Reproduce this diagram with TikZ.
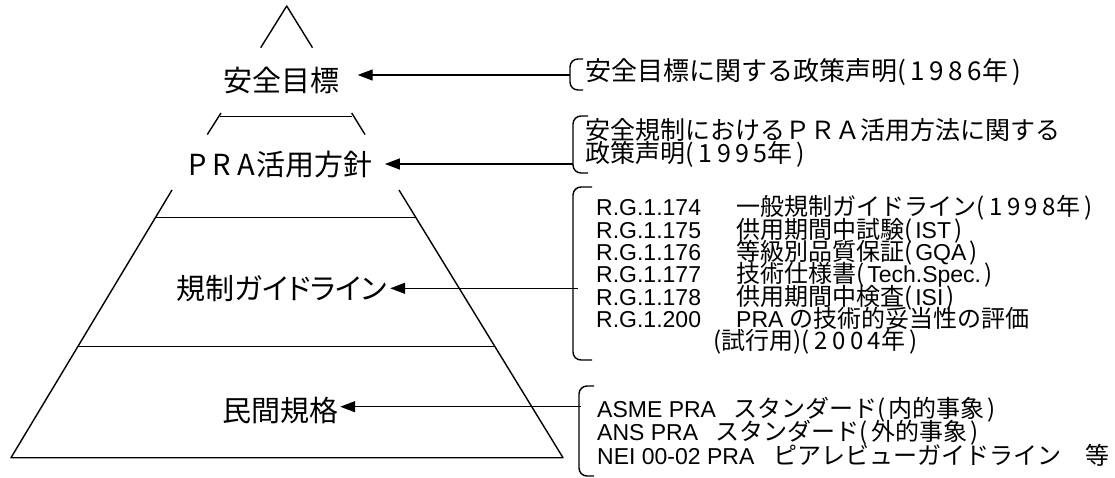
\documentclass[tikz,border=0pt]{standalone}
\usepackage{fontspec}
\setmainfont{Liberation Sans}
\newfontfamily\jp{Noto Sans CJK JP}
\newfontfamily\jpp{Noto Sans CJK JP}[RawFeature=+palt]
\usetikzlibrary{arrows.meta,calc}
\lineskiplimit=-100pt
\newcommand\J[1]{{\jp\fontsize{24}{22.3}\selectfont #1}}
\newcommand\ks{\kern4.5pt}
\newcommand\lp{(\kern5pt}
\newcommand\rp{\kern4pt)}
\begin{document}
\begin{tikzpicture}[x=1pt,y=-1pt,
  ln/.style={line width=1.4pt, line join=round},
  arr/.style={line width=1.4pt, -{Triangle[length=15pt,width=11pt]}},
  brk/.style={line width=1.4pt, rounded corners=8pt},
  lbl/.style={inner sep=0pt, font=\jpp\fontsize{29}{29}\selectfont},
  rtxt/.style={inner sep=0pt, anchor=west, align=left}]
\useasboundingbox (0,0) rectangle (1115,477);

% pyramid
\draw[ln] (260.7,47.7) -- (286.7,6) -- (312.5,47.7);
\draw[ln] (207.3,134.5) -- (221,113);
\draw[ln] (351.7,113) -- (365,134.5);
\draw[ln] (220,116.7) -- (352,116.7);
\draw[ln] (172,190) -- (11,457.7) -- (563,457.7) -- (399,190);
\draw[ln] (155.3,217.7) -- (416,217.7);
\draw[ln] (77.8,346.7) -- (495,346.7);

% labels
\node[lbl] (goal) at (281.5,80) {安全目標};
\node[lbl] (policy) at (280.5,165) {P\kern6pt R\kern6pt A\kern2pt 活用方針};
\node[lbl] (guide) at (281.7,289) {規制ガイドライン};
\node[lbl] (std) at (280,410) {民間規格};

% brackets
\draw[brk] (583,59) -- (570,59) -- (570,90) -- (583,90);
\draw[brk] (588,116) -- (573,116) -- (573,173) -- (588,173);
\draw[brk] (592,187) -- (573,187) -- (573,360) -- (592,360);
\draw[brk] (594,386) -- (579,386) -- (579,476) -- (594,476);

\coordinate (b1) at (570,75);
\coordinate (b2) at (573,164);
\coordinate (b3) at (578,288.3);
\coordinate (b4) at (581,406.7);

% arrows
\draw[arr] (b1) -- ($(goal.east |- b1)+(18,0)$);
\draw[arr] (b2) -- ($(policy.east |- b2)+(12,0)$);
\draw[arr] (b3) -- ($(guide.east |- b3)+(3,0)$);
\draw[arr] (b4) -- ($(std.east |- b4)+(2,0)$);

% texts
\node[rtxt, font=\jp\fontsize{26}{26}\selectfont] (t1) at (585,72)
  {安全目標に関する政策声明\lp 1\ks 9\ks 8\ks 6年\rp};
\node[rtxt, font=\jp\fontsize{25}{23}\selectfont] (t2) at (585,142.5)
  {安全規制におけるＰＲＡ活用方法に関する\\政策声明\lp 1\ks 9\ks 9\ks 5年\rp};
\node[rtxt, font=\fontsize{23}{22.3}\selectfont] (t3) at (596,275)
  {\makebox[140pt][l]{R.G.1.174}\J{一般規制ガイドライン\lp 1\ks 9\ks 9\ks 8年\rp}\\
   \makebox[140pt][l]{R.G.1.175}\J{供用期間中試験(\kern3pt}IST\J{\kern3pt)}\\
   \makebox[140pt][l]{R.G.1.176}\J{等級別品質保証(\kern3pt}GQA\J{\kern3pt)}\\
   \makebox[140pt][l]{R.G.1.177}\J{技術仕様書(\kern3pt}Tech.Spec.\J{\kern3pt)}\\
   \makebox[140pt][l]{R.G.1.178}\J{供用期間中検査(\kern3pt}ISI\J{\kern3pt)}\\
   \makebox[140pt][l]{R.G.1.200}PRA \J{の技術的妥当性の評価}\\
   \hspace*{117pt}\J{(試行用)\lp 2\ks 0\ks 0\ks 4年\rp}};
\node[rtxt, font=\fontsize{23}{23.5}\selectfont] (t4) at (597,431.5)
  {ASME PRA\ \ \kern5pt\J{スタンダード(\kern3pt 内的事象\kern3pt)}\\
   ANS PRA\ \ \kern5pt\J{スタンダード(\kern3pt 外的事象\kern3pt)}\\
   NEI 00-02 PRA\ \ \kern6pt\J{ピアレビューガイドライン　等}};
\end{tikzpicture}
\end{document}
